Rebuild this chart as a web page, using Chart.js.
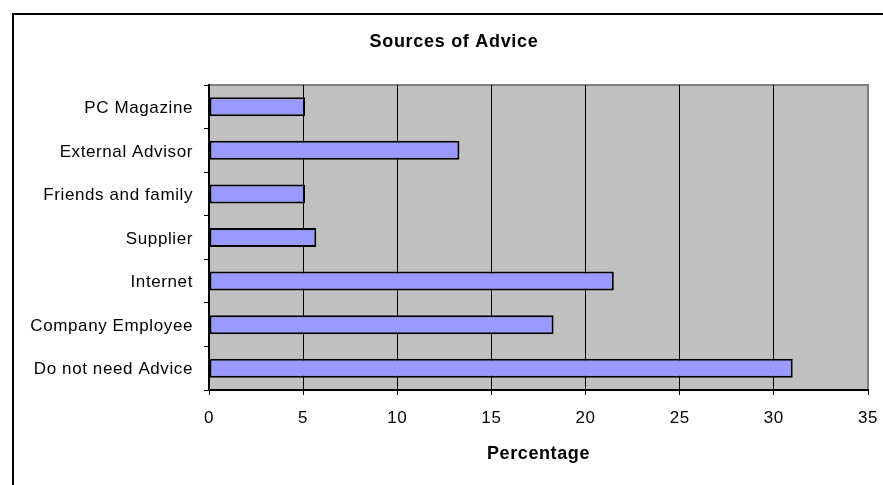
<!DOCTYPE html>
<html><head><meta charset="utf-8">
<script src="https://cdn.jsdelivr.net/npm/chart.js@4.4.0/dist/chart.umd.min.js"></script>
<style>html,body{margin:0;padding:0;background:#fff;} #wrap{position:relative;width:883px;height:485px;}</style>
</head><body><div id="wrap"><canvas id="c" width="883" height="485"></canvas></div>
<script>
const categories = ['PC Magazine', 'External Advisor', 'Friends and family', 'Supplier', 'Internet', 'Company Employee', 'Do not need Advice'];
const percentages = [5.1, 13.3, 5.1, 5.7, 21.5, 18.3, 31.0];
const xTickValues = [0, 5, 10, 15, 20, 25, 30, 35];
const chartTitle = 'Sources of Advice';
const xAxisTitle = 'Percentage';

const FONT = '"Liberation Sans", Arial, sans-serif';

const framePlugin = {
  id: 'frame',
  beforeDraw(chart) {
    const {ctx, chartArea: a, width, height} = chart;
    ctx.save();
    ctx.fillStyle = '#ffffff';
    ctx.fillRect(0, 0, width, height);
    // outer chart border (left & top visible)
    ctx.strokeStyle = '#000';
    ctx.lineWidth = 2;
    ctx.beginPath();
    ctx.moveTo(13, height + 5);
    ctx.lineTo(13, 14);
    ctx.lineTo(width + 5, 14);
    ctx.stroke();
    // plot area
    ctx.fillStyle = '#C0C0C0';
    ctx.fillRect(a.left, a.top, a.right - a.left, a.bottom - a.top);
    ctx.strokeStyle = '#808080';
    ctx.lineWidth = 2;
    ctx.strokeRect(a.left, a.top, a.right - a.left, a.bottom - a.top);
    // title
    ctx.fillStyle = '#000';
    ctx.font = 'bold 18px ' + FONT;
    ctx.textAlign = 'center';
    ctx.textBaseline = 'middle';
    if ('letterSpacing' in ctx) ctx.letterSpacing = '0.7px';
    ctx.fillText(chartTitle, 454, 42);
    ctx.restore();
    if ('letterSpacing' in ctx) ctx.letterSpacing = '0.6px';
  }
};

new Chart(document.getElementById('c'), {
  type: 'bar',
  data: {
    labels: categories,
    datasets: [{
      data: percentages,
      backgroundColor: '#9999FF',
      borderColor: '#000000',
      borderWidth: 2,
      borderSkipped: false,
      barPercentage: 0.436,
      categoryPercentage: 1
    }]
  },
  options: {
    indexAxis: 'y',
    responsive: false,
    animation: false,
    devicePixelRatio: 1,
    layout: {padding: {top: 85, right: 15, left: 0, bottom: 0}},
    plugins: {legend: {display: false}, tooltip: {enabled: false}, title: {display: false}},
    scales: {
      x: {
        type: 'linear', min: 0, max: 35,
        afterBuildTicks(s) { s.ticks = xTickValues.map(v => ({value: v})); },
        afterFit(s) { s.height = 95; s.paddingRight = 0; s.paddingLeft = 0; },
        ticks: {color: '#000', font: {family: FONT, size: 17}, padding: 13, maxRotation: 0},
        grid: {
          color: ctx => (ctx.tick && ctx.tick.value === 35) ? '#808080' : '#000',
          tickColor: '#000', lineWidth: 1, tickLength: 5, drawOnChartArea: true
        },
        border: {color: '#000', width: 2},
        title: {display: true, text: xAxisTitle, color: '#000', font: {family: FONT, size: 18, weight: 'bold'}, padding: {top: 0, bottom: 20}}
      },
      y: {
        type: 'category', offset: true,
        afterFit(s) { s.width = 209; s.paddingTop = 0; s.paddingBottom = 0; },
        ticks: {color: '#000', font: {family: FONT, size: 17}, padding: 11, labelOffset: 1.5},
        grid: {drawOnChartArea: false, offset: true, color: '#000', tickLength: 5},
        border: {color: '#000', width: 2}
      }
    }
  },
  plugins: [framePlugin]
});
</script></body></html>
